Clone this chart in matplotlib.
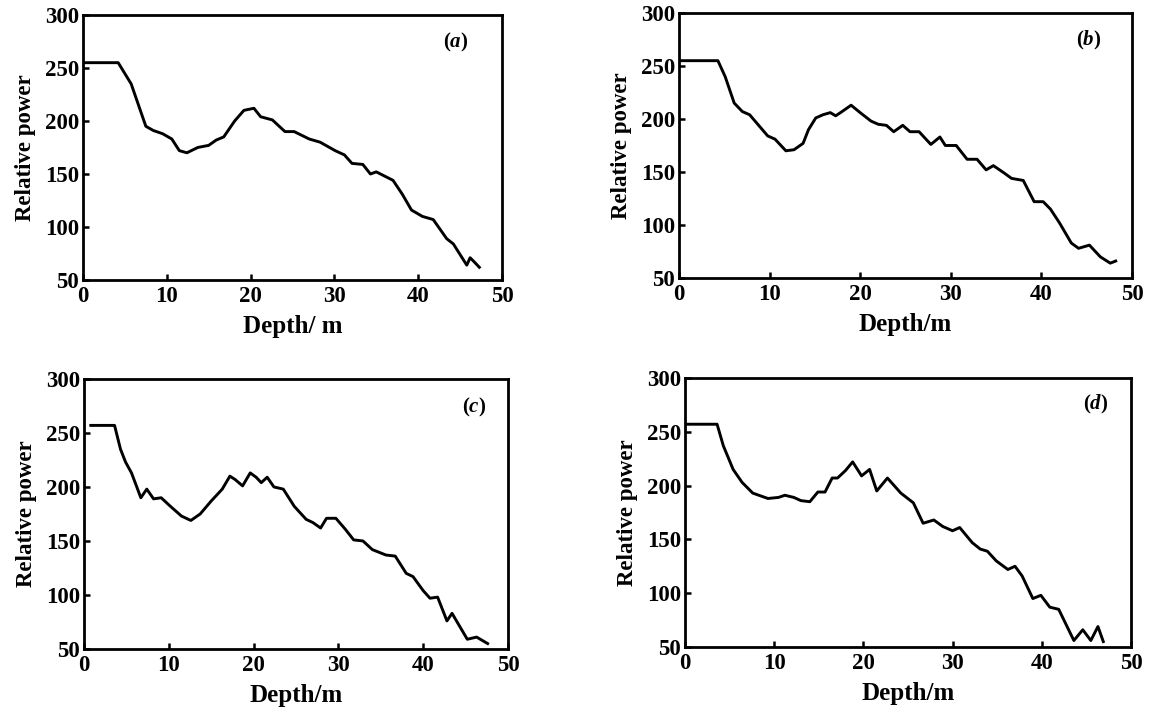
import numpy as np
import matplotlib.pyplot as plt

plt.rcParams['font.family'] = ['Liberation Serif', 'DejaVu Serif']
plt.rcParams['font.weight'] = 'bold'
plt.rcParams['mathtext.fontset'] = 'custom'
plt.rcParams['mathtext.it'] = 'Liberation Serif:italic:bold'

# (a)
depth_a = [0.1, 4.2, 5.75, 7.5, 8.4, 9.5, 10.6, 11.5, 12.4, 13.7, 15.0, 15.9, 16.8, 18.1,
           19.2, 20.4, 21.2, 22.6, 24.1, 25.2, 27.0, 28.3, 30.1, 31.2, 32.1, 33.4, 34.3,
           35.0, 37.0, 38.1, 39.2, 40.5, 41.8, 43.4, 44.2, 45.8, 46.2, 46.7, 47.3]
power_a = [255, 255, 235, 195, 191, 188, 183, 172, 170, 175, 177, 182, 185, 200,
           210, 212, 204, 201, 190, 190, 183, 180, 172, 168, 160, 159, 150,
           152, 144, 131, 116, 110, 107, 89, 84, 64, 71, 67, 62]

# (b)
depth_b = [0.0, 4.3, 5.1, 6.1, 7.0, 7.8, 9.0, 9.8, 10.6, 11.8, 12.7, 13.7, 14.3, 15.1,
           15.9, 16.7, 17.3, 18.0, 19.0, 20.0, 21.2, 22.0, 22.9, 23.7, 24.7, 25.5, 26.5,
           27.8, 28.8, 29.4, 30.6, 31.8, 32.9, 33.9, 34.7, 35.9, 36.7, 38.0, 39.2, 40.2,
           41.0, 42.0, 43.3, 44.1, 45.3, 46.5, 47.6, 48.2]
power_b = [255, 255, 240, 215, 207, 204, 192, 184, 181, 170, 171, 177, 190, 201,
           204, 206, 203, 207, 213, 206, 198, 195, 194, 188, 194, 188, 188,
           176, 183, 175, 175, 162, 162, 152, 156, 149, 144, 142, 122, 122,
           115, 102, 83, 78, 81, 70, 64, 66]

# (c)
depth_c = [0.8, 3.6, 4.3, 4.9, 5.6, 6.7, 7.4, 8.2, 9.1, 10.2, 11.5, 12.6, 13.7, 15.0,
           16.3, 17.2, 17.8, 18.7, 19.6, 20.3, 20.9, 21.6, 22.4, 23.5, 24.8, 26.2, 27.0,
           27.9, 28.6, 29.7, 30.8, 31.8, 32.9, 34.0, 35.6, 36.7, 38.0, 38.8, 40.0, 40.8,
           41.7, 42.8, 43.4, 45.2, 46.3, 47.6]
power_c = [257, 257, 235, 223, 213, 190, 198, 189, 190, 182, 173, 169, 175, 187,
           198, 210, 207, 201, 213, 209, 204, 209, 200, 198, 182, 170, 167,
           162, 171, 171, 161, 151, 150, 142, 137, 136, 120, 117, 104, 97,
           98, 76, 83, 59, 61, 55]

# (d)
depth_d = [0.2, 3.6, 4.3, 5.4, 6.4, 7.6, 9.3, 10.5, 11.2, 12.2, 13.0, 14.0, 14.9, 15.7,
           16.5, 17.1, 18.0, 18.8, 19.8, 20.7, 21.5, 22.7, 24.2, 25.6, 26.7, 27.9, 28.9,
           30.0, 30.8, 32.2, 33.1, 33.9, 34.9, 36.2, 37.0, 37.8, 39.0, 39.9, 40.9, 41.9,
           43.6, 44.6, 45.5, 46.3, 46.9]
power_d = [257, 257, 237, 215, 203, 193, 188, 189, 191, 189, 186, 185, 194, 194,
           207, 207, 214, 222, 209, 215, 195, 207, 193, 184, 165, 168, 162,
           158, 161, 147, 141, 139, 130, 122, 125, 116, 95, 98, 87, 85,
           56, 66, 56, 69, 55]

panels = [
    ([0.0716, 0.6073, 0.3615, 0.3717], depth_a, power_a, r'($a$)', 'Depth/ m', (0.89, 0.895)),
    ([0.5858, 0.6101, 0.3909, 0.3717], depth_b, power_b, r'($b$)', 'Depth/m', (0.905, 0.895)),
    ([0.0725, 0.0898, 0.3658, 0.3787], depth_c, power_c, r'($c$)', 'Depth/m', (0.92, 0.895)),
    ([0.5910, 0.0926, 0.3848, 0.3773], depth_d, power_d, r'($d$)', 'Depth/m', (0.92, 0.90)),
]

fig = plt.figure(figsize=(11.59, 7.13), dpi=100)

for rect, x, y, tag, xlab, tpos in panels:
    ax = fig.add_axes(rect)
    ax.plot(x, y, color='black', linewidth=2.1)
    ax.set_xlim(0, 50)
    ax.set_ylim(50, 300)
    ax.set_xticks([0, 10, 20, 30, 40, 50])
    ax.set_yticks([50, 100, 150, 200, 250, 300])
    ax.tick_params(direction='in', length=4.5, width=1.8, labelsize=16.5)
    ax.tick_params(axis='x', pad=4)
    ax.tick_params(axis='y', pad=3)
    for s in ax.spines.values():
        s.set_linewidth(2.0)
    ax.set_xlabel(xlab, fontsize=18, fontweight='bold', labelpad=6)
    ax.set_ylabel('Relative power', fontsize=16.5, fontweight='bold', labelpad=6)
    ax.text(tpos[0], tpos[1], tag, transform=ax.transAxes, fontsize=15,
            fontweight='bold', ha='center', va='center')

plt.savefig('out.png', dpi=100)
